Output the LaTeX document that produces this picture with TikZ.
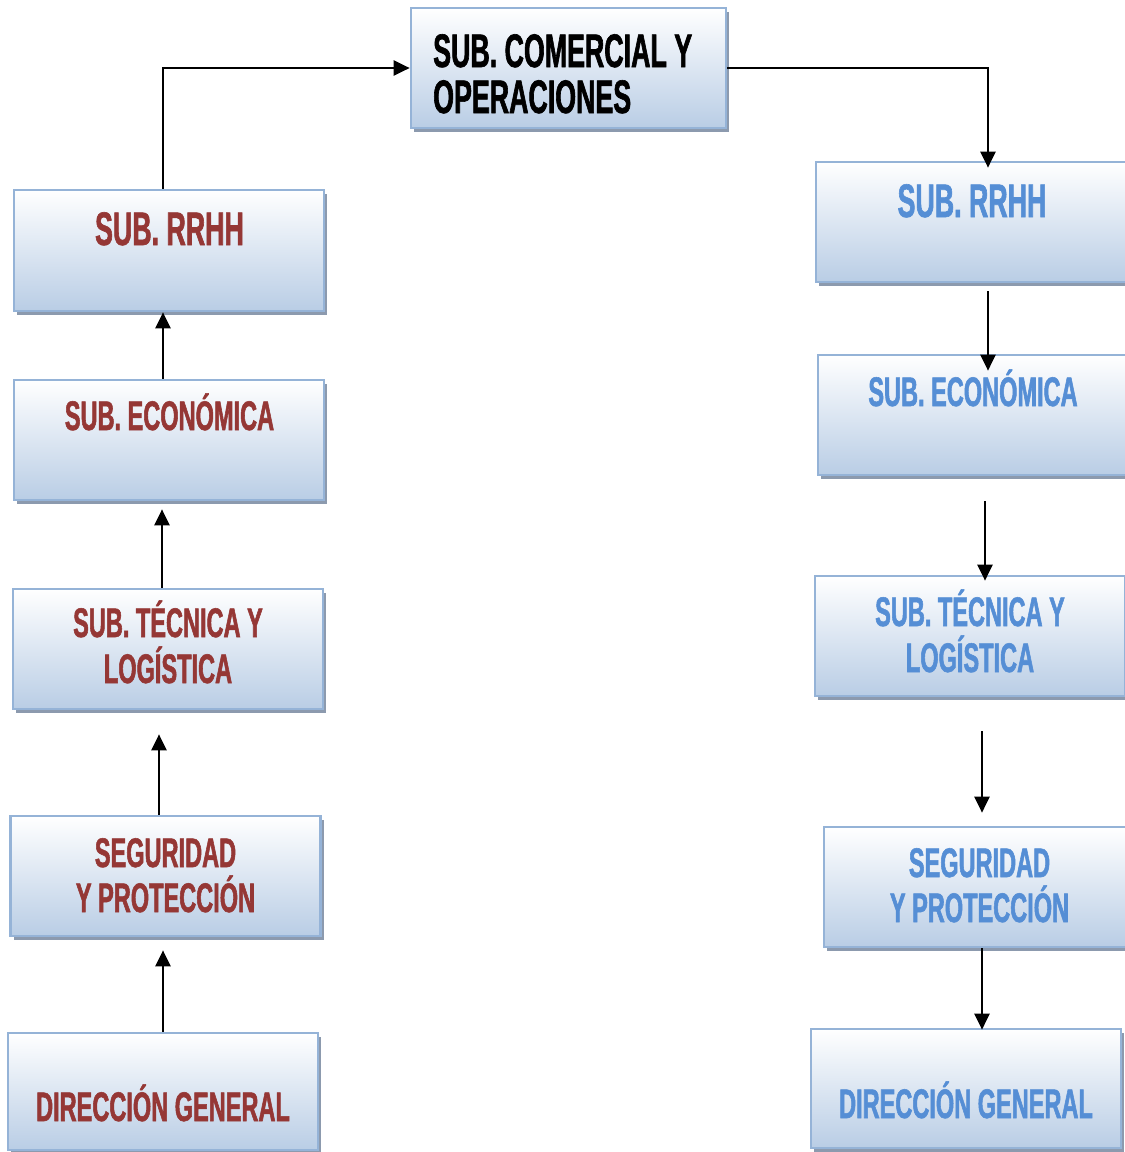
\documentclass[tikz,border=0pt]{standalone}
\usepackage{fontspec}
\setmainfont[FakeStretch=0.57, BoldFeatures={FakeBold=1.3}]{Liberation Sans}
\usetikzlibrary{arrows.meta,shadows}

\definecolor{boxblue}{RGB}{185,205,229}
\definecolor{boxline}{RGB}{149,179,215}
\definecolor{boxshadow}{RGB}{140,154,174}
\definecolor{redtext}{RGB}{149,55,53}
\definecolor{bluetext}{RGB}{85,142,213}

\tikzset{
  unitbox/.style={rectangle, minimum width=310pt, minimum height=120pt,
    inner sep=0pt, draw=boxline, line width=2.7pt,
    top color=white, bottom color=boxblue,
    drop shadow={shadow xshift=3pt, shadow yshift=-4pt, fill=boxshadow, opacity=1}},
  lbl/.style={inner sep=0pt, font=\bfseries\fontsize{41.3}{46}\selectfont},
  redlbl/.style={lbl, text=redtext, anchor=base},
  bluelbl/.style={lbl, text=bluetext, anchor=base},
  biglbl/.style={font=\bfseries\fontsize{47}{48}\selectfont},
  arr/.style={line width=2.4pt, -{Triangle[length=16pt,width=15pt]}}
}

\begin{document}
\begin{tikzpicture}[x=1pt, y=-1pt]
  \clip (0,0) rectangle (1125,1152);

  % boxes
  \node[unitbox, minimum width=315pt] (top) at (568.5,68) {};
  \node[unitbox, minimum height=121pt] (lRRHH) at (169,250.5) {};
  \node[unitbox] (lEco) at (169,440) {};
  \node[unitbox] (lTec) at (168,649) {};
  \node[unitbox] (lSeg) at (165.5,876) {};
  \node[unitbox, minimum height=117pt] (lDir) at (163,1091.5) {};
  \node[unitbox] (rRRHH) at (971,222) {};
  \node[unitbox] (rEco) at (973,415) {};
  \node[unitbox] (rTec) at (970,636) {};
  \node[unitbox] (rSeg) at (979,887) {};
  \node[unitbox, minimum height=119pt] (rDir) at (966,1088.5) {};

  % labels
  \node[lbl, biglbl, anchor=base west] (topA) at (433,67) {SUB. COMERCIAL Y};
  \node[lbl, biglbl, anchor=base west] (topB) at (433,113) {OPERACIONES};

  \node[redlbl, biglbl] (lRRHHa) at (169.5,245) {SUB. RRHH};
  \node[redlbl] (lEcoA) at (169.5,430) {SUB. ECONÓMICA};
  \node[redlbl] (lTecA) at (168,637) {SUB. TÉCNICA Y};
  \node[redlbl] (lTecB) at (168,683) {LOGÍSTICA};
  \node[redlbl] (lSegA) at (165.5,867) {SEGURIDAD};
  \node[redlbl] (lSegB) at (165.5,912) {Y PROTECCIÓN};
  \node[redlbl] (lDirA) at (163,1121) {DIRECCIÓN GENERAL};

  \node[bluelbl, biglbl] (rRRHHa) at (972,217) {SUB. RRHH};
  \node[bluelbl] (rEcoA) at (973,406) {SUB. ECONÓMICA};
  \node[bluelbl] (rTecA) at (970,626) {SUB. TÉCNICA Y};
  \node[bluelbl] (rTecB) at (970,672) {LOGÍSTICA};
  \node[bluelbl] (rSegA) at (979.5,877) {SEGURIDAD};
  \node[bluelbl] (rSegB) at (979.5,922) {Y PROTECCIÓN};
  \node[bluelbl] (rDirA) at (966,1118) {DIRECCIÓN GENERAL};

  % connector columns
  \coordinate (cL1) at (163,0);
  \coordinate (cL2) at (159,0);
  \coordinate (cL3) at (162,0);
  \coordinate (cR1) at (988,0);
  \coordinate (cR2) at (985,0);
  \coordinate (cR3) at (982,0);

  % top links
  \draw[arr] (lRRHH.north -| cL1) |- (top.west);
  \draw[arr, shorten >=-7pt] (top.east) -| (rRRHH.north -| cR1);

  % left column, upward
  \draw[arr, shorten >=13pt] (lDir.north -| cL1) -- (lSeg.south -| cL1);
  \draw[arr, shorten >=24pt] (lSeg.north -| cL2) -- (lTec.south -| cL2);
  \draw[arr, shorten >=8pt] (lTec.north -| cL3) -- (lEco.south -| cL3);
  \draw[arr] (lEco.north -| cL1) -- (lRRHH.south -| cL1);

  % right column, downward
  \draw[arr, shorten <=8pt, shorten >=-17pt] (rRRHH.south -| cR1) -- (rEco.north -| cR1);
  \draw[arr, shorten <=25pt, shorten >=-6pt] (rEco.south -| cR2) -- (rTec.north -| cR2);
  \draw[arr, shorten <=34pt, shorten >=13pt] (rTec.south -| cR3) -- (rSeg.north -| cR3);
  \draw[arr, shorten >=-2pt] (rSeg.south -| cR3) -- (rDir.north -| cR3);
\end{tikzpicture}
\end{document}
